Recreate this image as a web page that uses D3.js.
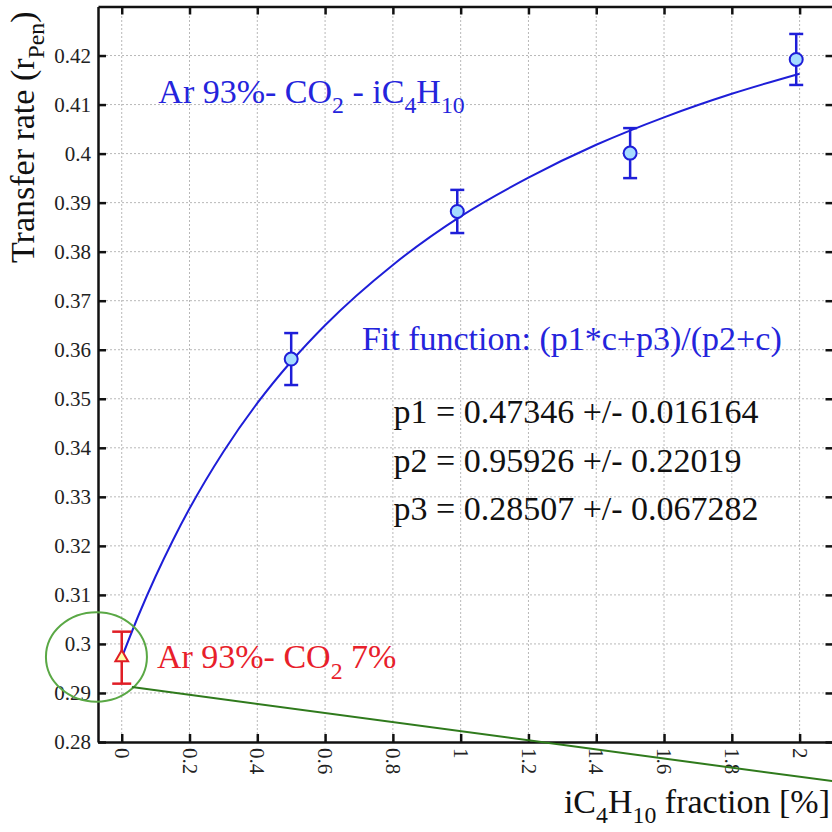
<!DOCTYPE html>
<html>
<head>
<meta charset="utf-8">
<script src="https://cdn.jsdelivr.net/npm/d3@7"></script>
</head>
<body>
<div id="chart"></div>
<script>
"use strict"

// measured points, iC4H10 admixture
var fraction = [0.5, 0.99, 1.5, 1.99];
var rate = [0.3581, 0.3882, 0.4001, 0.4192];
var rateErr = [0.0053, 0.0044, 0.0051, 0.0052];

// reference point, Ar 93% - CO2 7%
var refFraction = [0];
var refRate = [0.2972];
var refErr = [0.0053];

// fit curve
var fitC = [0, 0.05, 0.1, 0.15, 0.2, 0.3, 0.4, 0.5, 0.6, 0.8, 1.0, 1.2, 1.4, 1.6, 1.8, 2.0];
var fitR = [0.2972, 0.3059, 0.3138, 0.3210, 0.3276, 0.3392, 0.3491, 0.3576, 0.3650, 0.3773, 0.3872, 0.3951, 0.4018, 0.4074, 0.4122, 0.4163];

var xTicks = [0, 0.2, 0.4, 0.6, 0.8, 1, 1.2, 1.4, 1.6, 1.8, 2];
var yTicks = [0.28, 0.29, 0.3, 0.31, 0.32, 0.33, 0.34, 0.35, 0.36, 0.37, 0.38, 0.39, 0.4, 0.41, 0.42];

var fitLines = ["p1 = 0.47346 +/- 0.016164", "p2 = 0.95926 +/- 0.22019", "p3 = 0.28507 +/- 0.067282"];

var FONT = "'Liberation Serif'";
var W = 832, H = 832;
d3.select("body").style("margin", "0px");
var svg = d3.select("#chart").append("svg")
    .attr("width", W)
    .attr("height", H)
    .attr("font-family", "Liberation Serif")
    .style("font-family", FONT)
    .style("display", "block");

var x = d3.scaleLinear().domain([-0.07, 2.1]).range([98, 833.5]);
var y = d3.scaleLinear().domain([0.28, 0.43]).range([742, 6.5]);

// grid
var grid = svg.append("g")
    .attr("stroke", "#b8b8b8")
    .attr("stroke-width", 1)
    .attr("stroke-dasharray", "2,2");
grid.selectAll("line.gx")
    .data(xTicks)
    .enter()
    .append("line")
    .attr("x1", function(d) { return x(d); })
    .attr("x2", function(d) { return x(d); })
    .attr("y1", y.range()[0])
    .attr("y2", y.range()[1]);
grid.selectAll("line.gy")
    .data(yTicks.slice(1))
    .enter()
    .append("line")
    .attr("x1", x.range()[0])
    .attr("x2", x.range()[1])
    .attr("y1", function(d) { return y(d); })
    .attr("y2", function(d) { return y(d); });

// axes with inward ticks
function styleAxis(g) {
    g.attr("font-family", "Liberation Serif");
    g.select(".domain").attr("stroke", "#111").attr("stroke-width", 2.5);
    g.selectAll(".tick line").attr("stroke", "#111").attr("stroke-width", 2.5);
}

var xAxis = svg.append("g")
    .attr("transform", "translate(0," + y.range()[0] + ")")
    .call(d3.axisBottom(x).tickValues(xTicks).tickSizeInner(-8).tickSizeOuter(0)
        .tickFormat(d3.format("")))
    .call(styleAxis);
xAxis.selectAll(".tick text")
    .attr("transform", "rotate(90)")
    .attr("x", 6)
    .attr("y", 0)
    .attr("dy", "0.35em")
    .attr("text-anchor", "start")
    .attr("fill", "#222")
    .style("font-size", "21px")
    .style("font-family", FONT);

svg.append("g")
    .attr("transform", "translate(" + x.range()[0] + ",0)")
    .call(d3.axisLeft(y).tickValues(yTicks).tickSizeInner(-8).tickSizeOuter(0).tickPadding(7)
        .tickFormat(d3.format("")))
    .call(styleAxis)
    .selectAll(".tick text")
    .attr("fill", "#222")
    .style("font-size", "21px")
    .style("font-family", FONT);

svg.append("g")
    .attr("transform", "translate(0," + y.range()[1] + ")")
    .call(d3.axisTop(x).tickValues(xTicks).tickSizeInner(-8).tickSizeOuter(0).tickFormat(""))
    .call(styleAxis);

svg.append("g")
    .attr("transform", "translate(" + x.range()[1] + ",0)")
    .call(d3.axisRight(y).tickValues(yTicks).tickSizeInner(-8).tickSizeOuter(0).tickFormat(""))
    .call(styleAxis);

// text with subscripts: parts = [[text, isSub], ...]
function richText(parent, parts, size) {
    var t = parent.append("text")
        .style("font-family", FONT)
        .style("font-size", size + "px");
    var low = false;
    parts.forEach(function(p) {
        var s = t.append("tspan").text(p[0]);
        if (p[1] && !low) {
            s.attr("dy", size * 0.3).style("font-size", (size * 0.7) + "px");
            low = true;
        } else if (p[1]) {
            s.style("font-size", (size * 0.7) + "px");
        } else if (low) {
            s.attr("dy", -size * 0.3);
            low = false;
        }
    });
    return t;
}

// axis titles
richText(svg, [["iC"], ["4", 1], ["H"], ["10", 1], [" fraction [%]"]], 34)
    .attr("x", 830)
    .attr("y", 813)
    .attr("text-anchor", "end")
    .attr("fill", "#111");

richText(svg, [["Transfer rate (r"], ["Pen", 1], [")"]], 34)
    .attr("transform", "translate(34,263) rotate(-90)")
    .attr("fill", "#111");

// fit curve
var line = d3.line()
    .x(function(d, i) { return x(fitC[i]); })
    .y(function(d) { return y(d); })
    .curve(d3.curveMonotoneX);
svg.append("path")
    .datum(fitR)
    .attr("d", line)
    .attr("fill", "none")
    .attr("stroke", "#1e1ed8")
    .attr("stroke-width", 2);

// error bars
function errorBars(xs, ys, es, color, capW) {
    var g = svg.append("g").attr("stroke", color).attr("stroke-width", 2.5);
    xs.forEach(function(c, i) {
        var top = y(ys[i] + es[i]), bot = y(ys[i] - es[i]);
        g.append("line").attr("x1", x(c)).attr("x2", x(c)).attr("y1", top).attr("y2", bot);
        g.append("line").attr("x1", x(c) - capW / 2).attr("x2", x(c) + capW / 2).attr("y1", top).attr("y2", top);
        g.append("line").attr("x1", x(c) - capW / 2).attr("x2", x(c) + capW / 2).attr("y1", bot).attr("y2", bot);
    });
}
errorBars(fraction, rate, rateErr, "#1e1ed8", 14);
errorBars(refFraction, refRate, refErr, "#e01e26", 19);

svg.append("g")
    .selectAll("circle")
    .data(rate)
    .enter()
    .append("circle")
    .attr("cx", function(d, i) { return x(fraction[i]); })
    .attr("cy", function(d) { return y(d); })
    .attr("r", 6.5)
    .attr("fill", "#a6dcff")
    .attr("stroke", "#1e1ed8")
    .attr("stroke-width", 2);

svg.append("g")
    .selectAll("path")
    .data(refRate)
    .enter()
    .append("path")
    .attr("d", d3.symbol().type(d3.symbolTriangle).size(70))
    .attr("transform", function(d, i) { return "translate(" + x(refFraction[i]) + "," + y(d) + ")"; })
    .attr("fill", "#ffffa8")
    .attr("stroke", "#e01e26")
    .attr("stroke-width", 2);

// labels
richText(svg, [["Ar 93%- CO"], ["2", 1], [" - iC"], ["4", 1], ["H"], ["10", 1]], 34)
    .attr("x", x(0.108))
    .attr("y", y(0.4103))
    .attr("fill", "#2424dc");

richText(svg, [["Fit function: (p1*c+p3)/(p2+c)"]], 34)
    .attr("x", x(0.7086))
    .attr("y", y(0.36))
    .attr("fill", "#2424dc");

var pY = [0.345, 0.3351, 0.3253];
fitLines.forEach(function(s, i) {
    richText(svg, [[s]], 34)
        .attr("x", x(0.8018))
        .attr("y", y(pY[i]))
        .attr("fill", "#111");
});

richText(svg, [["Ar 93%- CO"], ["2", 1], [" 7%"]], 34)
    .attr("x", x(0.1038))
    .attr("y", y(0.295))
    .attr("fill", "#e8202a");

// green annotation: ellipse round the reference point and a pointer line
var ringC = [-0.0746, 0.29735];
svg.append("ellipse")
    .attr("cx", x(ringC[0]))
    .attr("cy", y(ringC[1]))
    .attr("rx", x(ringC[0] + 0.149) - x(ringC[0]))
    .attr("ry", y(ringC[1] - 0.00912) - y(ringC[1]))
    .attr("fill", "none")
    .attr("stroke", "#5aa845")
    .attr("stroke-width", 2);

var pointer = [[0.03, 0.2912], [2.12, 0.2718]];
svg.append("line")
    .attr("x1", x(pointer[0][0]))
    .attr("y1", y(pointer[0][1]))
    .attr("x2", x(pointer[1][0]))
    .attr("y2", y(pointer[1][1]))
    .attr("stroke", "#2f7a1c")
    .attr("stroke-width", 2);

// force text layout before the snapshot
svg.selectAll("text").each(function() { this.getComputedTextLength(); });
</script>
</body>
</html>
